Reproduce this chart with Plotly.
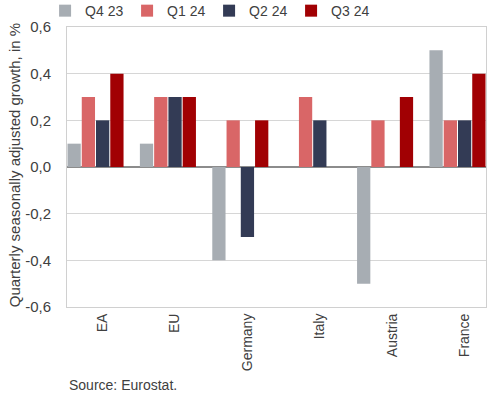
import plotly.graph_objects as go

categories = ["EA", "EU", "Germany", "Italy", "Austria", "France"]
series_names = ["Q4 23", "Q1 24", "Q2 24", "Q3 24"]
q4_23 = [0.1, 0.1, -0.4, 0.0, -0.5, 0.5]
q1_24 = [0.3, 0.3, 0.2, 0.3, 0.2, 0.2]
q2_24 = [0.2, 0.3, -0.3, 0.2, 0.0, 0.2]
q3_24 = [0.4, 0.3, 0.2, 0.0, 0.3, 0.4]
tick_vals = [-0.6, -0.4, -0.2, 0.0, 0.2, 0.4, 0.6]
tick_text = ["-0,6", "-0,4", "-0,2", "0,0", "0,2", "0,4", "0,6"]

colors = ["#A7ADB3", "#D96667", "#333B55", "#A10003"]
values = [q4_23, q1_24, q2_24, q3_24]

fig = go.Figure()
for name, vals, c in zip(series_names, values, colors):
    fig.add_trace(go.Bar(x=categories, y=vals, name=name, marker=dict(color=c, line=dict(width=0))))

font_family = "Liberation Sans, Arial, sans-serif"
txt = "#404040"
fig.update_layout(
    width=490, height=395,
    margin=dict(l=67, r=4, t=27, b=88, autoexpand=False),
    paper_bgcolor="white", plot_bgcolor="white",
    barmode="group", bargap=0.212, bargroupgap=0.07,
    font=dict(family=font_family, size=14, color=txt),
    legend=dict(orientation="h", xref="container", yref="container",
                x=0.092, xanchor="left", y=0.972, yanchor="middle",
                entrywidth=37, entrywidthmode="pixels", bgcolor="rgba(0,0,0,0)",
                font=dict(size=14, color=txt), itemwidth=30,
                traceorder="normal"),
    showlegend=True,
)
fig.update_yaxes(range=[-0.6, 0.6], tickvals=tick_vals, ticktext=tick_text,
                 showgrid=True, gridcolor="#D6D6D6", gridwidth=1,
                 zeroline=True, zerolinecolor="#8C8C8C", zerolinewidth=1.5,
                 showline=True, linecolor="#D0D0D0", mirror=True,
                 ticks="", ticklabelstandoff=12, tickfont=dict(size=15, color=txt))
fig.update_xaxes(tickangle=-90, showline=True, linecolor="#D0D0D0", mirror=True,
                 range=[-0.394, 5.394], ticklabelshift=7,
                 ticks="", tickfont=dict(size=14, color=txt))
fig.add_annotation(text="Quarterly seasonally adjusted growth, in %", textangle=-90,
                   xref="paper", yref="paper", x=-0.126, y=0.507,
                   xanchor="center", yanchor="middle", showarrow=False,
                   font=dict(size=15, color=txt))
fig.add_annotation(text="Source: Eurostat.", xref="paper", yref="paper",
                   x=0.0, y=-0.279, xanchor="left", yanchor="middle",
                   showarrow=False, font=dict(size=14, color=txt))
fig.write_html("out.html", config={"displayModeBar": False},
               post_script="document.body.style.margin='0';")
